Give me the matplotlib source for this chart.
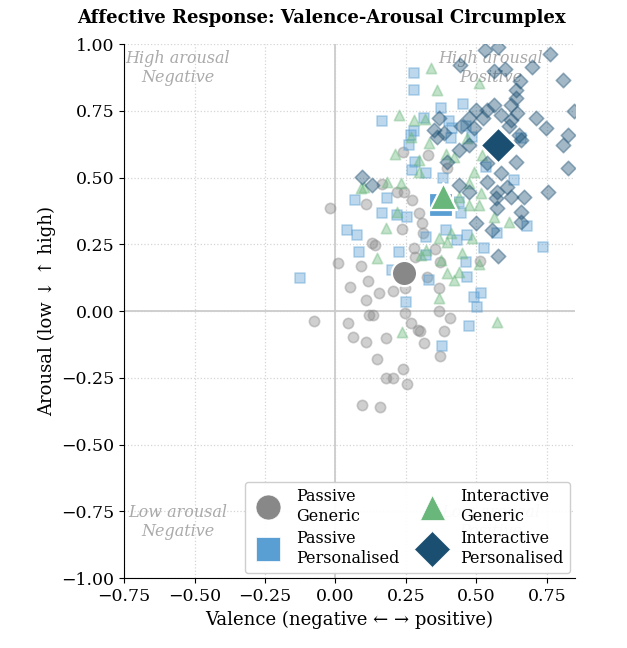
import matplotlib
matplotlib.use("Agg")
import matplotlib.pyplot as plt
from matplotlib.lines import Line2D
import numpy as np

plt.rcParams['font.family'] = ['DejaVu Serif']

groups = ["Passive\nGeneric", "Passive\nPersonalised", "Interactive\nGeneric", "Interactive\nPersonalised"]
colors = ["#888888", "#5a9fd4", "#6ab77c", "#1b4f72"]
markers = ["o", "s", "^", "D"]

pg_x = [0.01, 0.09, 0.116, 0.053, 0.154, 0.205, 0.246, 0.107, 0.367, -0.075, 0.044, 0.118, 0.134, 0.246,
        0.267, 0.367, 0.406, 0.294, 0.30, 0.385, 0.062, 0.109, 0.181, 0.314, 0.371, 0.148, 0.239, 0.181,
        0.205, 0.255, 0.095, 0.158, -0.018, 0.110, 0.239, 0.328, 0.395, 0.166, 0.219, 0.243, 0.273, 0.296,
        0.308, 0.237, 0.312, 0.130, 0.142, 0.278, 0.352, 0.37, 0.513, 0.326, 0.284, 0.255]
pg_y = [0.18, 0.17, 0.113, 0.091, 0.066, 0.075, 0.085, 0.041, 0.085, -0.037, -0.046, -0.015, -0.015, -0.006,
        -0.044, 0.0, -0.025, -0.071, -0.075, -0.074, -0.099, -0.117, -0.102, -0.119, -0.169, -0.179, -0.217, -0.252,
        -0.252, -0.273, -0.352, -0.361, 0.385, 0.40, 0.597, 0.584, 0.534, 0.474, 0.447, 0.447, 0.416, 0.366,
        0.331, 0.306, 0.291, 0.254, 0.247, 0.235, 0.231, 0.185, 0.188, 0.128, 0.203, 0.166]

pp_x = [0.278, 0.278, 0.373, 0.454, 0.166, 0.314, 0.403, 0.278, 0.415, 0.462, 0.267, 0.261, 0.409, 0.486,
        0.658, 0.284, 0.273, 0.32, 0.533, 0.634, 0.071, 0.184, 0.166, 0.255, 0.438, 0.444, 0.042, 0.381,
        0.219, 0.077, 0.083, 0.225, 0.32, 0.391, 0.433, 0.468, 0.32, 0.462, 0.527, 0.735, 0.575, 0.681,
        0.201, 0.332, 0.468, 0.249, 0.515, 0.492, 0.504, 0.474, -0.127, 0.379]
pp_y = [0.891, 0.829, 0.760, 0.775, 0.710, 0.723, 0.710, 0.673, 0.685, 0.692, 0.659, 0.622, 0.647, 0.653,
        0.648, 0.559, 0.528, 0.516, 0.54, 0.491, 0.416, 0.422, 0.366, 0.353, 0.409, 0.366, 0.303, 0.497,
        0.36, 0.285, 0.22, 0.22, 0.278, 0.303, 0.266, 0.285, 0.21, 0.185, 0.235, 0.241, 0.291, 0.318,
        0.154, 0.116, 0.128, 0.035, 0.069, 0.054, 0.016, -0.056, 0.122, -0.131]

ig_x = [0.338, 0.359, 0.509, 0.225, 0.278, 0.316, 0.267, 0.332, 0.213, 0.296, 0.391, 0.42, 0.468, 0.521,
        0.184, 0.1, 0.231, 0.296, 0.474, 0.515, 0.509, 0.616, 0.42, 0.219, 0.178, 0.492, 0.089, 0.438,
        0.474, 0.563, 0.146, 0.32, 0.302, 0.367, 0.397, 0.409, 0.45, 0.486, 0.373, 0.397, 0.438, 0.42,
        0.367, 0.509, 0.572, 0.237]
ig_y = [0.909, 0.828, 0.853, 0.734, 0.715, 0.72, 0.653, 0.63, 0.59, 0.566, 0.59, 0.578, 0.647, 0.584,
        0.484, 0.466, 0.478, 0.522, 0.478, 0.441, 0.397, 0.334, 0.403, 0.372, 0.31, 0.522, 0.46, 0.428,
        0.397, 0.353, 0.197, 0.228, 0.21, 0.272, 0.26, 0.291, 0.216, 0.272, 0.191, 0.141, 0.147, 0.116,
        0.048, 0.178, -0.04, -0.077]

ip_x = [0.53, 0.577, 0.762, 0.442, 0.561, 0.601, 0.699, 0.806, 0.655, 0.64, 0.64, 0.622, 0.563, 0.498,
        0.539, 0.587, 0.646, 0.711, 0.845, 0.474, 0.522, 0.622, 0.444, 0.367, 0.492, 0.616, 0.747, 0.824,
        0.349, 0.652, 0.361, 0.385, 0.474, 0.438, 0.806, 0.658, 0.64, 0.397, 0.539, 0.587, 0.824, 0.095,
        0.130, 0.539, 0.438, 0.474, 0.610, 0.575, 0.753, 0.622, 0.669, 0.569, 0.575, 0.658, 0.498, 0.658,
        0.557, 0.578]
ip_y = [0.979, 0.988, 0.963, 0.92, 0.898, 0.908, 0.913, 0.866, 0.860, 0.829, 0.798, 0.773, 0.773, 0.754,
        0.754, 0.735, 0.742, 0.723, 0.748, 0.723, 0.723, 0.716, 0.692, 0.723, 0.685, 0.692, 0.685, 0.66,
        0.679, 0.66, 0.653, 0.666, 0.622, 0.603, 0.622, 0.64, 0.559, 0.559, 0.553, 0.516, 0.534, 0.503,
        0.472, 0.484, 0.472, 0.447, 0.466, 0.447, 0.447, 0.428, 0.428, 0.422, 0.385, 0.372, 0.328, 0.334,
        0.303, 0.206]

mean_x = [0.243, 0.373, 0.38, 0.576]
mean_y = [0.141, 0.397, 0.43, 0.622]

xs = [pg_x, pp_x, ig_x, ip_x]
ys = [pg_y, pp_y, ig_y, ip_y]

fig = plt.figure(figsize=(6.27, 6.48), dpi=100)
ax = fig.add_axes([0.198, 0.108, 0.719, 0.824])

ax.axhline(0, color="#cccccc", lw=1.3, zorder=1)
ax.axvline(0, color="#cccccc", lw=1.3, zorder=1)
ax.grid(True, linestyle=":", color="#d5d5d5", lw=0.9, zorder=0)
ax.set_axisbelow(True)

small_sizes = [55, 50, 55, 55]
big_sizes = [330, 300, 380, 330]
for i in range(4):
    ax.scatter(xs[i], ys[i], s=small_sizes[i], marker=markers[i], color=colors[i],
               alpha=0.4, edgecolors=colors[i], linewidths=1.2, zorder=2)
for i in range(4):
    ax.scatter([mean_x[i]], [mean_y[i]], s=big_sizes[i], marker=markers[i], color=colors[i],
               edgecolors="white", linewidths=1.6, zorder=4)

qkw = dict(ha="center", va="center", fontsize=11.5, style="italic", color="#aaaaaa", zorder=1)
ax.text(-0.56, 0.91, "High arousal\nNegative", **qkw)
ax.text(0.55, 0.91, "High arousal\nPositive", **qkw)
ax.text(-0.56, -0.79, "Low arousal\nNegative", **qkw)
ax.text(0.55, -0.79, "Low arousal\nPositive", **qkw)

ax.set_xlim(-0.75, 0.85)
ax.set_ylim(-1.0, 1.0)
ax.set_xticks(np.arange(-0.75, 0.76, 0.25))
ax.set_yticks(np.arange(-1.0, 1.01, 0.25))
ax.tick_params(labelsize=12.5)
for sp in ["top", "right"]:
    ax.spines[sp].set_visible(False)

ax.set_xlabel("Valence (negative ← → positive)", fontsize=13)
ax.set_ylabel("Arousal (low ↓ ↑ high)", fontsize=13)
fig.text(0.512, 0.972, "Affective Response: Valence-Arousal Circumplex", fontsize=13,
         fontweight="bold", ha="center", va="center")

handles = [Line2D([0], [0], marker=markers[i], color="none", markerfacecolor=colors[i],
                  markeredgecolor="white", markeredgewidth=0.5, markersize=[18, 17, 18, 18][i])
           for i in range(4)]
leg = ax.legend(handles, groups, loc="lower right", ncol=2, fontsize=11.5, frameon=True,
                framealpha=0.95, edgecolor="#cccccc", handletextpad=0.8, columnspacing=1.0,
                borderpad=0.4, labelspacing=0.35, borderaxespad=0.3)
leg.set_zorder(5)

fig.savefig("out.png", dpi=100)
